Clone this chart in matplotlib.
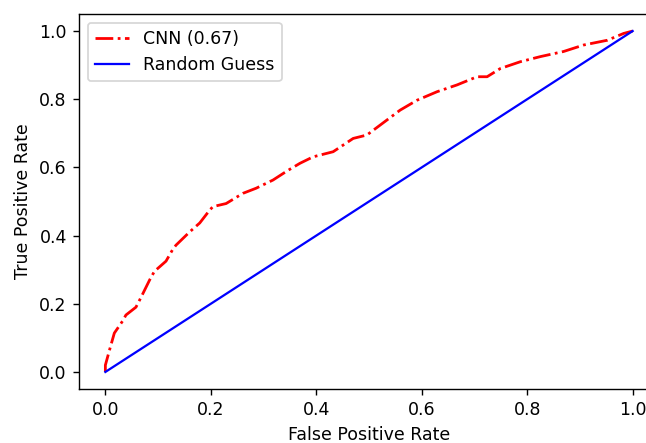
import numpy as np
import matplotlib
matplotlib.use("Agg")
import matplotlib.pyplot as plt

# ROC curve points
fpr = [0.0, 0.0, 0.008, 0.017, 0.033, 0.039, 0.058, 0.068, 0.084, 0.093,
       0.115, 0.128, 0.134, 0.16, 0.179, 0.198, 0.204, 0.229, 0.261, 0.286,
       0.318, 0.345, 0.369, 0.394, 0.432, 0.47, 0.496, 0.534, 0.559, 0.591,
       0.629, 0.667, 0.705, 0.724, 0.749, 0.787, 0.825, 0.869, 0.907, 0.952,
       0.983, 1.0]
tpr = [0.0, 0.02, 0.065, 0.114, 0.15, 0.167, 0.19, 0.22, 0.27, 0.295,
       0.325, 0.36, 0.372, 0.411, 0.437, 0.475, 0.485, 0.494, 0.524, 0.539,
       0.563, 0.59, 0.612, 0.631, 0.646, 0.685, 0.695, 0.739, 0.768, 0.797,
       0.822, 0.842, 0.866, 0.866, 0.89, 0.91, 0.925, 0.94, 0.959, 0.973,
       0.993, 1.0]
auc_label = "CNN (0.67)"
diag = [0.0, 1.0]

DPI = 125
W, H = 646, 443
fig = plt.figure(figsize=(W / DPI, H / DPI), dpi=DPI)
# axes run off the right edge, as in the cropped reference
ax = fig.add_axes([79 / W, 54 / H, 580 / W, 375 / H])

ax.plot(fpr, tpr, '-.', color='red', linewidth=1.6, label=auc_label)
ax.plot(diag, diag, '-', color='blue', linewidth=1.3, label='Random Guess')

ax.set_xlim(-0.05, 1.05)
ax.set_ylim(-0.05, 1.05)
ax.set_xticks([0.0, 0.2, 0.4, 0.6, 0.8, 1.0])
ax.set_yticks([0.0, 0.2, 0.4, 0.6, 0.8, 1.0])
ax.set_xlabel('False Positive Rate')
ax.set_ylabel('True Positive Rate')
ax.spines['right'].set_visible(False)
ax.legend(loc='upper left')

fig.savefig('out.png', dpi=DPI)
